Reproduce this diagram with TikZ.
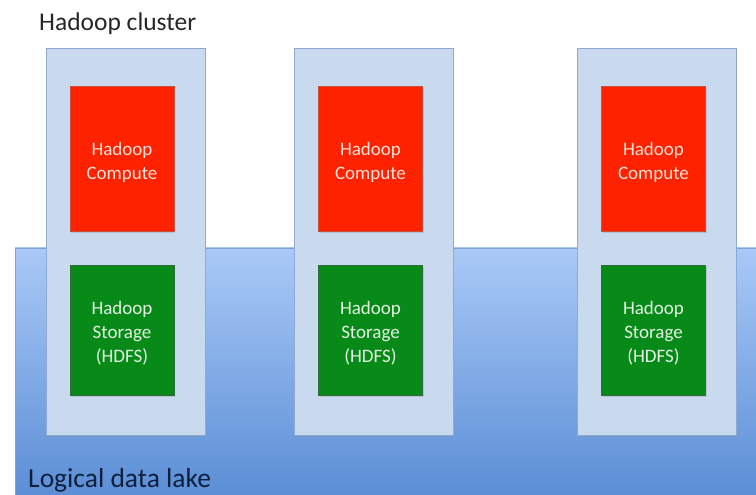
\documentclass[tikz,border=0pt]{standalone}
\usepackage{fontspec}
\setmainfont{Carlito}
\usetikzlibrary{shadows}

\definecolor{lakeTop}{HTML}{A9C9F7}
\definecolor{lakeBottom}{HTML}{5A8DD5}
\definecolor{lakeLine}{HTML}{7FA2D6}
\definecolor{lakeText}{HTML}{0E1F3D}
\definecolor{clusterFill}{HTML}{C9D9EE}
\definecolor{clusterLine}{HTML}{8EA9D6}
\definecolor{computeRed}{HTML}{FF2200}
\definecolor{computeLine}{HTML}{C8503C}
\definecolor{computeText}{HTML}{FFE2D9}
\definecolor{storageGreen}{HTML}{078A17}
\definecolor{storageLine}{HTML}{2F6E3A}
\definecolor{storageText}{HTML}{E3F2E3}

\begin{document}
\begin{tikzpicture}[x=1pt,y=1pt,
  cluster/.style={rectangle,draw=clusterLine,fill=clusterFill,line width=0.8pt,
    minimum width=159pt,minimum height=387pt,inner sep=0pt,
    drop shadow={opacity=0.25,shadow xshift=1pt,shadow yshift=-2pt}},
  box/.style={rectangle,line width=0.8pt,minimum width=104pt,align=center,inner sep=0pt,
    font=\fontsize{19}{24}\selectfont,
    drop shadow={opacity=0.25,shadow xshift=1pt,shadow yshift=-2pt}},
  compute/.style={box,draw=computeLine,fill=computeRed,text=computeText,
    minimum height=145pt,text height=45pt},
  storage/.style={box,draw=storageLine,fill=storageGreen,text=storageText,
    minimum height=130pt,text height=67.5pt},
  label/.style={anchor=west,inner sep=0pt}]

  \clip (0,0) rectangle (756,495);
  \useasboundingbox (0,0) rectangle (756,495);

  % data lake
  \shade[top color=lakeTop,bottom color=lakeBottom,draw=lakeLine,line width=0.8pt]
    (15,-5) rectangle (765,247);

  \node[label,text=black!85,font=\fontsize{25.5}{30}\selectfont] (title) at (39,471) {Hadoop cluster};
  \node[label,text=lakeText,font=\fontsize{27.5}{32}\selectfont] (lake) at (28,15) {Logical data lake};

  % clusters
  \node[cluster] (k1) at (125.5,253.5) {};
  \node[cluster] (k2) at (373.5,253.5) {};
  \node[cluster] (k3) at (656.5,253.5) {};

  \node[compute] (c1) at (122,336.5) {Hadoop\\Compute};
  \node[compute] (c2) at (370.5,336.5) {Hadoop\\Compute};
  \node[compute] (c3) at (653.5,336.5) {Hadoop\\Compute};

  \node[storage] (s1) at (122,165) {Hadoop\\Storage\\(HDFS)};
  \node[storage] (s2) at (370.5,165) {Hadoop\\Storage\\(HDFS)};
  \node[storage] (s3) at (653.5,165) {Hadoop\\Storage\\(HDFS)};

\end{tikzpicture}
\end{document}
